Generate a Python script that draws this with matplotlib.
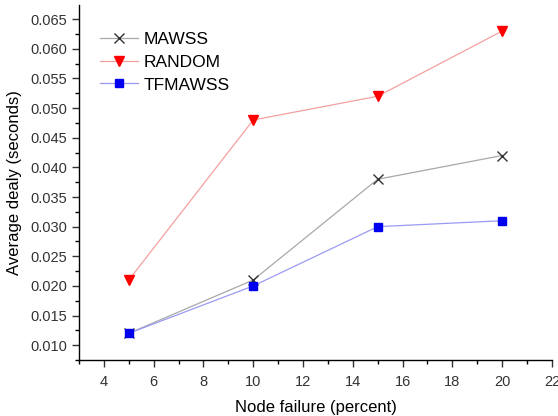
import matplotlib
matplotlib.use("Agg")
import matplotlib.pyplot as plt
from matplotlib.ticker import MultipleLocator, FormatStrFormatter

plt.rcParams['font.family'] = ['Liberation Sans', 'DejaVu Sans']

x = [5, 10, 15, 20]
mawss = [0.012, 0.021, 0.038, 0.042]
random_ = [0.021, 0.048, 0.052, 0.063]
tfmawss = [0.012, 0.020, 0.030, 0.031]

fig = plt.figure(figsize=(5.58, 4.16), dpi=100)
ax = fig.add_axes([0.1416, 0.1346, 0.8475, 0.8534])

ax.plot(x, mawss, color='#a8a8a8', lw=0.9, marker='x', ms=6.5, mec='#333333', mew=1.0, label='MAWSS')
ax.plot(x, random_, color='#f4a0a0', lw=0.9, marker='v', ms=7, mfc='red', mec='red', label='RANDOM')
ax.plot(x, tfmawss, color='#9a9af4', lw=0.9, marker='s', ms=5.5, mfc='#0000ee', mec='#0000ee', label='TFMAWSS')

ax.set_xlim(3.0, 22.0)
ax.set_ylim(0.0075, 0.0674)
ax.xaxis.set_major_locator(MultipleLocator(2))
ax.xaxis.set_minor_locator(MultipleLocator(1))
ax.yaxis.set_major_locator(MultipleLocator(0.005))
ax.yaxis.set_minor_locator(MultipleLocator(0.0025))
ax.yaxis.set_major_formatter(FormatStrFormatter('%.3f'))
ax.set_xticks([4, 6, 8, 10, 12, 14, 16, 18, 20, 22])

for s in ['top', 'right']:
    ax.spines[s].set_visible(False)
for s in ['left', 'bottom']:
    ax.spines[s].set_linewidth(1.0)
ax.tick_params(which='major', direction='out', length=5, width=1, labelsize=10.5, colors='#333333')
ax.tick_params(which='minor', direction='out', length=3, width=1)
ax.tick_params(axis='x', pad=6)

ax.set_xlabel('Node failure (percent)', fontsize=12, labelpad=8)
ax.set_ylabel('Average dealy (seconds)', fontsize=12, labelpad=6)

ax.legend(loc='upper left', bbox_to_anchor=(0.03, 0.945), frameon=False, fontsize=12.5,
          handlelength=2.2, handletextpad=0.3, labelspacing=0.45, borderaxespad=0)

fig.savefig('out.png', dpi=100)
